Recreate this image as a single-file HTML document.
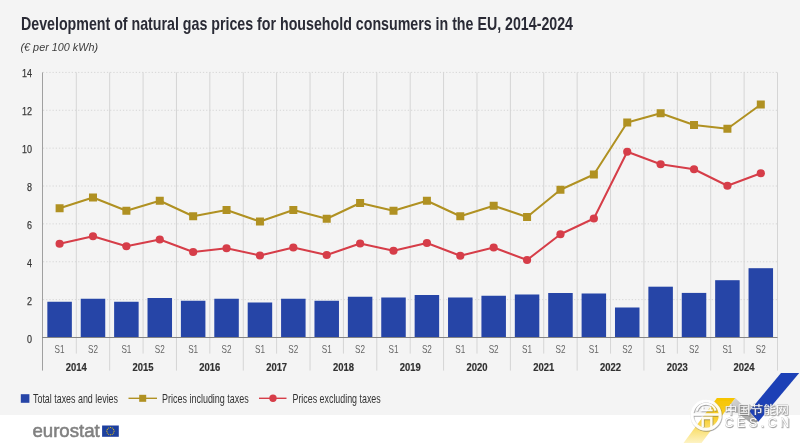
<!DOCTYPE html>
<html lang="en"><head><meta charset="utf-8"><title>Development of natural gas prices for household consumers in the EU, 2014-2024</title>
<style>html,body{margin:0;padding:0;background:#fff}body{width:800px;height:443px;overflow:hidden;font-family:"Liberation Sans","Noto Sans CJK SC",sans-serif}svg{display:block}text{font-family:"Liberation Sans","Noto Sans CJK SC",sans-serif}</style></head><body>
<svg width="800" height="443" viewBox="0 0 800 443">
<defs>
<linearGradient id="yg" x1="0" y1="0" x2="0" y2="1"><stop offset="0" stop-color="#f6c400"/><stop offset="0.45" stop-color="#f8cf2e"/><stop offset="1" stop-color="#fdf3c4"/></linearGradient>
<linearGradient id="gg" x1="0" y1="0" x2="1" y2="1"><stop offset="0" stop-color="#d9d9d9"/><stop offset="1" stop-color="#9a9a9a"/></linearGradient>
<filter id="sh" x="-10%" y="-10%" width="120%" height="130%"><feDropShadow dx="0.6" dy="0.8" stdDeviation="0.5" flood-color="#555" flood-opacity="0.7"/></filter>
<filter id="soft" x="0" y="0" width="800" height="443" filterUnits="userSpaceOnUse"><feGaussianBlur stdDeviation="0.38"/></filter>
</defs>
<rect x="0" y="0" width="800" height="415" fill="#f4f4f4"/>
<rect x="0" y="415" width="800" height="28" fill="#ffffff"/>
<g filter="url(#soft)">
<text x="21" y="29.9" font-size="18.5" font-weight="700" fill="#2a2c36" textLength="552" lengthAdjust="spacingAndGlyphs">Development of natural gas prices for household consumers in the EU, 2014-2024</text>
<text x="20.5" y="50.9" font-size="11.3" font-style="italic" fill="#3c3c3c" textLength="77.5" lengthAdjust="spacingAndGlyphs">(€ per 100 kWh)</text>
<line x1="76.29" y1="72.4" x2="76.29" y2="353.6" stroke="#d5d5d5" stroke-width="1"/>
<line x1="109.68" y1="72.4" x2="109.68" y2="370.6" stroke="#d5d5d5" stroke-width="1"/>
<line x1="143.07" y1="72.4" x2="143.07" y2="353.6" stroke="#d5d5d5" stroke-width="1"/>
<line x1="176.46" y1="72.4" x2="176.46" y2="370.6" stroke="#d5d5d5" stroke-width="1"/>
<line x1="209.85" y1="72.4" x2="209.85" y2="353.6" stroke="#d5d5d5" stroke-width="1"/>
<line x1="243.25" y1="72.4" x2="243.25" y2="370.6" stroke="#d5d5d5" stroke-width="1"/>
<line x1="276.64" y1="72.4" x2="276.64" y2="353.6" stroke="#d5d5d5" stroke-width="1"/>
<line x1="310.03" y1="72.4" x2="310.03" y2="370.6" stroke="#d5d5d5" stroke-width="1"/>
<line x1="343.42" y1="72.4" x2="343.42" y2="353.6" stroke="#d5d5d5" stroke-width="1"/>
<line x1="376.81" y1="72.4" x2="376.81" y2="370.6" stroke="#d5d5d5" stroke-width="1"/>
<line x1="410.20" y1="72.4" x2="410.20" y2="353.6" stroke="#d5d5d5" stroke-width="1"/>
<line x1="443.59" y1="72.4" x2="443.59" y2="370.6" stroke="#d5d5d5" stroke-width="1"/>
<line x1="476.98" y1="72.4" x2="476.98" y2="353.6" stroke="#d5d5d5" stroke-width="1"/>
<line x1="510.37" y1="72.4" x2="510.37" y2="370.6" stroke="#d5d5d5" stroke-width="1"/>
<line x1="543.76" y1="72.4" x2="543.76" y2="353.6" stroke="#d5d5d5" stroke-width="1"/>
<line x1="577.15" y1="72.4" x2="577.15" y2="370.6" stroke="#d5d5d5" stroke-width="1"/>
<line x1="610.55" y1="72.4" x2="610.55" y2="353.6" stroke="#d5d5d5" stroke-width="1"/>
<line x1="643.94" y1="72.4" x2="643.94" y2="370.6" stroke="#d5d5d5" stroke-width="1"/>
<line x1="677.33" y1="72.4" x2="677.33" y2="353.6" stroke="#d5d5d5" stroke-width="1"/>
<line x1="710.72" y1="72.4" x2="710.72" y2="370.6" stroke="#d5d5d5" stroke-width="1"/>
<line x1="744.11" y1="72.4" x2="744.11" y2="353.6" stroke="#d5d5d5" stroke-width="1"/>
<line x1="777.50" y1="72.4" x2="777.50" y2="370.6" stroke="#d5d5d5" stroke-width="1"/>
<line x1="42.9" y1="299.63" x2="777.5" y2="299.63" stroke="#d4d4d4" stroke-width="0.9" stroke-dasharray="1.3 1.9"/>
<line x1="42.9" y1="261.76" x2="777.5" y2="261.76" stroke="#d4d4d4" stroke-width="0.9" stroke-dasharray="1.3 1.9"/>
<line x1="42.9" y1="223.89" x2="777.5" y2="223.89" stroke="#d4d4d4" stroke-width="0.9" stroke-dasharray="1.3 1.9"/>
<line x1="42.9" y1="186.01" x2="777.5" y2="186.01" stroke="#d4d4d4" stroke-width="0.9" stroke-dasharray="1.3 1.9"/>
<line x1="42.9" y1="148.14" x2="777.5" y2="148.14" stroke="#d4d4d4" stroke-width="0.9" stroke-dasharray="1.3 1.9"/>
<line x1="42.9" y1="110.27" x2="777.5" y2="110.27" stroke="#d4d4d4" stroke-width="0.9" stroke-dasharray="1.3 1.9"/>
<line x1="42.9" y1="72.40" x2="777.5" y2="72.40" stroke="#d4d4d4" stroke-width="0.9" stroke-dasharray="1.3 1.9"/>
<text x="27.00" y="342.50" font-size="11.5" fill="#383838" stroke="#383838" stroke-width="0.25" textLength="5.0" lengthAdjust="spacingAndGlyphs">0</text>
<text x="27.00" y="304.63" font-size="11.5" fill="#383838" stroke="#383838" stroke-width="0.25" textLength="5.0" lengthAdjust="spacingAndGlyphs">2</text>
<text x="27.00" y="266.76" font-size="11.5" fill="#383838" stroke="#383838" stroke-width="0.25" textLength="5.0" lengthAdjust="spacingAndGlyphs">4</text>
<text x="27.00" y="228.89" font-size="11.5" fill="#383838" stroke="#383838" stroke-width="0.25" textLength="5.0" lengthAdjust="spacingAndGlyphs">6</text>
<text x="27.00" y="191.01" font-size="11.5" fill="#383838" stroke="#383838" stroke-width="0.25" textLength="5.0" lengthAdjust="spacingAndGlyphs">8</text>
<text x="22.00" y="153.14" font-size="11.5" fill="#383838" stroke="#383838" stroke-width="0.25" textLength="10.0" lengthAdjust="spacingAndGlyphs">10</text>
<text x="22.00" y="115.27" font-size="11.5" fill="#383838" stroke="#383838" stroke-width="0.25" textLength="10.0" lengthAdjust="spacingAndGlyphs">12</text>
<text x="22.00" y="77.40" font-size="11.5" fill="#383838" stroke="#383838" stroke-width="0.25" textLength="10.0" lengthAdjust="spacingAndGlyphs">14</text>
<rect x="47.35" y="301.75" width="24.5" height="35.75" fill="#2644a7"/>
<rect x="80.74" y="298.75" width="24.5" height="38.75" fill="#2644a7"/>
<rect x="114.13" y="301.75" width="24.5" height="35.75" fill="#2644a7"/>
<rect x="147.52" y="298.00" width="24.5" height="39.50" fill="#2644a7"/>
<rect x="180.91" y="300.75" width="24.5" height="36.75" fill="#2644a7"/>
<rect x="214.30" y="298.75" width="24.5" height="38.75" fill="#2644a7"/>
<rect x="247.69" y="302.50" width="24.5" height="35.00" fill="#2644a7"/>
<rect x="281.08" y="298.75" width="24.5" height="38.75" fill="#2644a7"/>
<rect x="314.47" y="300.75" width="24.5" height="36.75" fill="#2644a7"/>
<rect x="347.86" y="296.75" width="24.5" height="40.75" fill="#2644a7"/>
<rect x="381.25" y="297.50" width="24.5" height="40.00" fill="#2644a7"/>
<rect x="414.65" y="295.00" width="24.5" height="42.50" fill="#2644a7"/>
<rect x="448.04" y="297.50" width="24.5" height="40.00" fill="#2644a7"/>
<rect x="481.43" y="295.75" width="24.5" height="41.75" fill="#2644a7"/>
<rect x="514.82" y="294.50" width="24.5" height="43.00" fill="#2644a7"/>
<rect x="548.21" y="293.00" width="24.5" height="44.50" fill="#2644a7"/>
<rect x="581.60" y="293.50" width="24.5" height="44.00" fill="#2644a7"/>
<rect x="614.99" y="307.50" width="24.5" height="30.00" fill="#2644a7"/>
<rect x="648.38" y="286.70" width="24.5" height="50.80" fill="#2644a7"/>
<rect x="681.77" y="292.90" width="24.5" height="44.60" fill="#2644a7"/>
<rect x="715.16" y="280.20" width="24.5" height="57.30" fill="#2644a7"/>
<rect x="748.55" y="268.20" width="24.5" height="69.30" fill="#2644a7"/>
<line x1="42.5" y1="72.4" x2="42.5" y2="370.6" stroke="#969696" stroke-width="0.9"/>
<line x1="42.0" y1="337.5" x2="777.5" y2="337.5" stroke="#858585" stroke-width="1"/>
<polyline points="59.60,208.25 92.99,197.50 126.38,210.75 159.77,200.75 193.16,216.25 226.55,210.00 259.94,221.50 293.33,210.00 326.72,218.75 360.11,203.00 393.50,210.75 426.90,200.75 460.29,216.25 493.68,205.75 527.07,217.00 560.46,189.75 593.85,174.50 627.24,122.50 660.63,113.25 694.02,125.00 727.41,128.75 760.80,104.50" fill="none" stroke="#b09121" stroke-width="2" stroke-linejoin="round"/>
<rect x="55.60" y="204.25" width="8" height="8" fill="#b09121"/>
<rect x="88.99" y="193.50" width="8" height="8" fill="#b09121"/>
<rect x="122.38" y="206.75" width="8" height="8" fill="#b09121"/>
<rect x="155.77" y="196.75" width="8" height="8" fill="#b09121"/>
<rect x="189.16" y="212.25" width="8" height="8" fill="#b09121"/>
<rect x="222.55" y="206.00" width="8" height="8" fill="#b09121"/>
<rect x="255.94" y="217.50" width="8" height="8" fill="#b09121"/>
<rect x="289.33" y="206.00" width="8" height="8" fill="#b09121"/>
<rect x="322.72" y="214.75" width="8" height="8" fill="#b09121"/>
<rect x="356.11" y="199.00" width="8" height="8" fill="#b09121"/>
<rect x="389.50" y="206.75" width="8" height="8" fill="#b09121"/>
<rect x="422.90" y="196.75" width="8" height="8" fill="#b09121"/>
<rect x="456.29" y="212.25" width="8" height="8" fill="#b09121"/>
<rect x="489.68" y="201.75" width="8" height="8" fill="#b09121"/>
<rect x="523.07" y="213.00" width="8" height="8" fill="#b09121"/>
<rect x="556.46" y="185.75" width="8" height="8" fill="#b09121"/>
<rect x="589.85" y="170.50" width="8" height="8" fill="#b09121"/>
<rect x="623.24" y="118.50" width="8" height="8" fill="#b09121"/>
<rect x="656.63" y="109.25" width="8" height="8" fill="#b09121"/>
<rect x="690.02" y="121.00" width="8" height="8" fill="#b09121"/>
<rect x="723.41" y="124.75" width="8" height="8" fill="#b09121"/>
<rect x="756.80" y="100.50" width="8" height="8" fill="#b09121"/>
<polyline points="59.60,243.75 92.99,236.25 126.38,246.25 159.77,239.50 193.16,252.00 226.55,248.25 259.94,255.50 293.33,247.50 326.72,255.00 360.11,243.50 393.50,250.75 426.90,243.00 460.29,255.75 493.68,247.50 527.07,260.00 560.46,234.25 593.85,218.50 627.24,151.75 660.63,164.25 694.02,169.25 727.41,185.75 760.80,173.25" fill="none" stroke="#d63e48" stroke-width="2" stroke-linejoin="round"/>
<circle cx="59.60" cy="243.75" r="4.1" fill="#d63e48"/>
<circle cx="92.99" cy="236.25" r="4.1" fill="#d63e48"/>
<circle cx="126.38" cy="246.25" r="4.1" fill="#d63e48"/>
<circle cx="159.77" cy="239.50" r="4.1" fill="#d63e48"/>
<circle cx="193.16" cy="252.00" r="4.1" fill="#d63e48"/>
<circle cx="226.55" cy="248.25" r="4.1" fill="#d63e48"/>
<circle cx="259.94" cy="255.50" r="4.1" fill="#d63e48"/>
<circle cx="293.33" cy="247.50" r="4.1" fill="#d63e48"/>
<circle cx="326.72" cy="255.00" r="4.1" fill="#d63e48"/>
<circle cx="360.11" cy="243.50" r="4.1" fill="#d63e48"/>
<circle cx="393.50" cy="250.75" r="4.1" fill="#d63e48"/>
<circle cx="426.90" cy="243.00" r="4.1" fill="#d63e48"/>
<circle cx="460.29" cy="255.75" r="4.1" fill="#d63e48"/>
<circle cx="493.68" cy="247.50" r="4.1" fill="#d63e48"/>
<circle cx="527.07" cy="260.00" r="4.1" fill="#d63e48"/>
<circle cx="560.46" cy="234.25" r="4.1" fill="#d63e48"/>
<circle cx="593.85" cy="218.50" r="4.1" fill="#d63e48"/>
<circle cx="627.24" cy="151.75" r="4.1" fill="#d63e48"/>
<circle cx="660.63" cy="164.25" r="4.1" fill="#d63e48"/>
<circle cx="694.02" cy="169.25" r="4.1" fill="#d63e48"/>
<circle cx="727.41" cy="185.75" r="4.1" fill="#d63e48"/>
<circle cx="760.80" cy="173.25" r="4.1" fill="#d63e48"/>
<text x="54.60" y="352.8" font-size="11.8" fill="#666" textLength="10" lengthAdjust="spacingAndGlyphs">S1</text>
<text x="87.99" y="352.8" font-size="11.8" fill="#666" textLength="10" lengthAdjust="spacingAndGlyphs">S2</text>
<text x="121.38" y="352.8" font-size="11.8" fill="#666" textLength="10" lengthAdjust="spacingAndGlyphs">S1</text>
<text x="154.77" y="352.8" font-size="11.8" fill="#666" textLength="10" lengthAdjust="spacingAndGlyphs">S2</text>
<text x="188.16" y="352.8" font-size="11.8" fill="#666" textLength="10" lengthAdjust="spacingAndGlyphs">S1</text>
<text x="221.55" y="352.8" font-size="11.8" fill="#666" textLength="10" lengthAdjust="spacingAndGlyphs">S2</text>
<text x="254.94" y="352.8" font-size="11.8" fill="#666" textLength="10" lengthAdjust="spacingAndGlyphs">S1</text>
<text x="288.33" y="352.8" font-size="11.8" fill="#666" textLength="10" lengthAdjust="spacingAndGlyphs">S2</text>
<text x="321.72" y="352.8" font-size="11.8" fill="#666" textLength="10" lengthAdjust="spacingAndGlyphs">S1</text>
<text x="355.11" y="352.8" font-size="11.8" fill="#666" textLength="10" lengthAdjust="spacingAndGlyphs">S2</text>
<text x="388.50" y="352.8" font-size="11.8" fill="#666" textLength="10" lengthAdjust="spacingAndGlyphs">S1</text>
<text x="421.90" y="352.8" font-size="11.8" fill="#666" textLength="10" lengthAdjust="spacingAndGlyphs">S2</text>
<text x="455.29" y="352.8" font-size="11.8" fill="#666" textLength="10" lengthAdjust="spacingAndGlyphs">S1</text>
<text x="488.68" y="352.8" font-size="11.8" fill="#666" textLength="10" lengthAdjust="spacingAndGlyphs">S2</text>
<text x="522.07" y="352.8" font-size="11.8" fill="#666" textLength="10" lengthAdjust="spacingAndGlyphs">S1</text>
<text x="555.46" y="352.8" font-size="11.8" fill="#666" textLength="10" lengthAdjust="spacingAndGlyphs">S2</text>
<text x="588.85" y="352.8" font-size="11.8" fill="#666" textLength="10" lengthAdjust="spacingAndGlyphs">S1</text>
<text x="622.24" y="352.8" font-size="11.8" fill="#666" textLength="10" lengthAdjust="spacingAndGlyphs">S2</text>
<text x="655.63" y="352.8" font-size="11.8" fill="#666" textLength="10" lengthAdjust="spacingAndGlyphs">S1</text>
<text x="689.02" y="352.8" font-size="11.8" fill="#666" textLength="10" lengthAdjust="spacingAndGlyphs">S2</text>
<text x="722.41" y="352.8" font-size="11.8" fill="#666" textLength="10" lengthAdjust="spacingAndGlyphs">S1</text>
<text x="755.80" y="352.8" font-size="11.8" fill="#666" textLength="10" lengthAdjust="spacingAndGlyphs">S2</text>
<text x="65.79" y="371.3" font-size="11.6" font-weight="700" fill="#303030" stroke="#303030" stroke-width="0.2" textLength="21" lengthAdjust="spacingAndGlyphs">2014</text>
<text x="132.57" y="371.3" font-size="11.6" font-weight="700" fill="#303030" stroke="#303030" stroke-width="0.2" textLength="21" lengthAdjust="spacingAndGlyphs">2015</text>
<text x="199.35" y="371.3" font-size="11.6" font-weight="700" fill="#303030" stroke="#303030" stroke-width="0.2" textLength="21" lengthAdjust="spacingAndGlyphs">2016</text>
<text x="266.14" y="371.3" font-size="11.6" font-weight="700" fill="#303030" stroke="#303030" stroke-width="0.2" textLength="21" lengthAdjust="spacingAndGlyphs">2017</text>
<text x="332.92" y="371.3" font-size="11.6" font-weight="700" fill="#303030" stroke="#303030" stroke-width="0.2" textLength="21" lengthAdjust="spacingAndGlyphs">2018</text>
<text x="399.70" y="371.3" font-size="11.6" font-weight="700" fill="#303030" stroke="#303030" stroke-width="0.2" textLength="21" lengthAdjust="spacingAndGlyphs">2019</text>
<text x="466.48" y="371.3" font-size="11.6" font-weight="700" fill="#303030" stroke="#303030" stroke-width="0.2" textLength="21" lengthAdjust="spacingAndGlyphs">2020</text>
<text x="533.26" y="371.3" font-size="11.6" font-weight="700" fill="#303030" stroke="#303030" stroke-width="0.2" textLength="21" lengthAdjust="spacingAndGlyphs">2021</text>
<text x="600.05" y="371.3" font-size="11.6" font-weight="700" fill="#303030" stroke="#303030" stroke-width="0.2" textLength="21" lengthAdjust="spacingAndGlyphs">2022</text>
<text x="666.83" y="371.3" font-size="11.6" font-weight="700" fill="#303030" stroke="#303030" stroke-width="0.2" textLength="21" lengthAdjust="spacingAndGlyphs">2023</text>
<text x="733.61" y="371.3" font-size="11.6" font-weight="700" fill="#303030" stroke="#303030" stroke-width="0.2" textLength="21" lengthAdjust="spacingAndGlyphs">2024</text>
<rect x="20.8" y="394.2" width="8.6" height="8.6" fill="#2644a7"/>
<text x="33" y="402.7" font-size="12.4" fill="#333" textLength="85" lengthAdjust="spacingAndGlyphs">Total taxes and levies</text>
<line x1="128.5" y1="398.3" x2="157" y2="398.3" stroke="#b09121" stroke-width="1.4"/><rect x="139.2" y="394.8" width="7" height="7" fill="#b09121"/>
<text x="162" y="402.7" font-size="12.4" fill="#333" textLength="86.8" lengthAdjust="spacingAndGlyphs">Prices including taxes</text>
<line x1="259" y1="398.3" x2="286.5" y2="398.3" stroke="#d63e48" stroke-width="1.4"/><circle cx="273" cy="398.3" r="3.7" fill="#d63e48"/>
<text x="292.5" y="402.7" font-size="12.4" fill="#333" textLength="88.2" lengthAdjust="spacingAndGlyphs">Prices excluding taxes</text>
<polygon points="735.2,398 749.1,411.2 757.9,421.8 752,424 729,406.5" fill="url(#gg)"/>
<polygon points="716.9,398 735.2,398 701.5,443 683.5,443" fill="url(#yg)"/>
<polygon points="781,372.9 799.2,372.9 758.3,421.8 749.3,411.2" fill="#1d40b6"/>
<text x="32.4" y="437" font-size="18.4" fill="#808080" stroke="#808080" stroke-width="0.55" textLength="67.4" lengthAdjust="spacingAndGlyphs">eurostat</text>
<rect x="102.1" y="425.5" width="16.7" height="11.3" fill="#1f3f9f"/>
<circle cx="110.45" cy="427.55" r="0.55" fill="#f5d000"/>
<circle cx="112.25" cy="428.03" r="0.55" fill="#f5d000"/>
<circle cx="113.57" cy="429.35" r="0.55" fill="#f5d000"/>
<circle cx="114.05" cy="431.15" r="0.55" fill="#f5d000"/>
<circle cx="113.57" cy="432.95" r="0.55" fill="#f5d000"/>
<circle cx="112.25" cy="434.27" r="0.55" fill="#f5d000"/>
<circle cx="110.45" cy="434.75" r="0.55" fill="#f5d000"/>
<circle cx="108.65" cy="434.27" r="0.55" fill="#f5d000"/>
<circle cx="107.33" cy="432.95" r="0.55" fill="#f5d000"/>
<circle cx="106.85" cy="431.15" r="0.55" fill="#f5d000"/>
<circle cx="107.33" cy="429.35" r="0.55" fill="#f5d000"/>
<circle cx="108.65" cy="428.03" r="0.55" fill="#f5d000"/>
<g filter="url(#sh)" opacity="0.93">
<circle cx="706.1" cy="415.2" r="14.1" fill="none" stroke="#fff" stroke-width="3"/>
<path d="M693 414.5h26.2" fill="none" stroke="#fff" stroke-width="2.5"/>
<path d="M696.6 410.6a10 10 0 0 1 19 0" fill="none" stroke="#fff" stroke-width="2"/>
<path d="M702.7 406.8v4.2M710.4 406.8v4.2M700.6 410.3h12" fill="none" stroke="#fff" stroke-width="1.8"/>
<path d="M702.7 427v-9h8.6v9" fill="none" stroke="#fff" stroke-width="2.3"/>
<text transform="translate(724.6 413.6) scale(1.12 1)" font-size="11.5" fill="#fff" stroke="#9a9a9a" stroke-width="0.35" paint-order="stroke">中国节能网</text>
<text x="724.6" y="427.3" font-size="12.4" fill="#fff" stroke="#9a9a9a" stroke-width="0.35" paint-order="stroke" textLength="64.5" lengthAdjust="spacing">CES.CN</text>
</g>
</g>
</svg></body></html>
